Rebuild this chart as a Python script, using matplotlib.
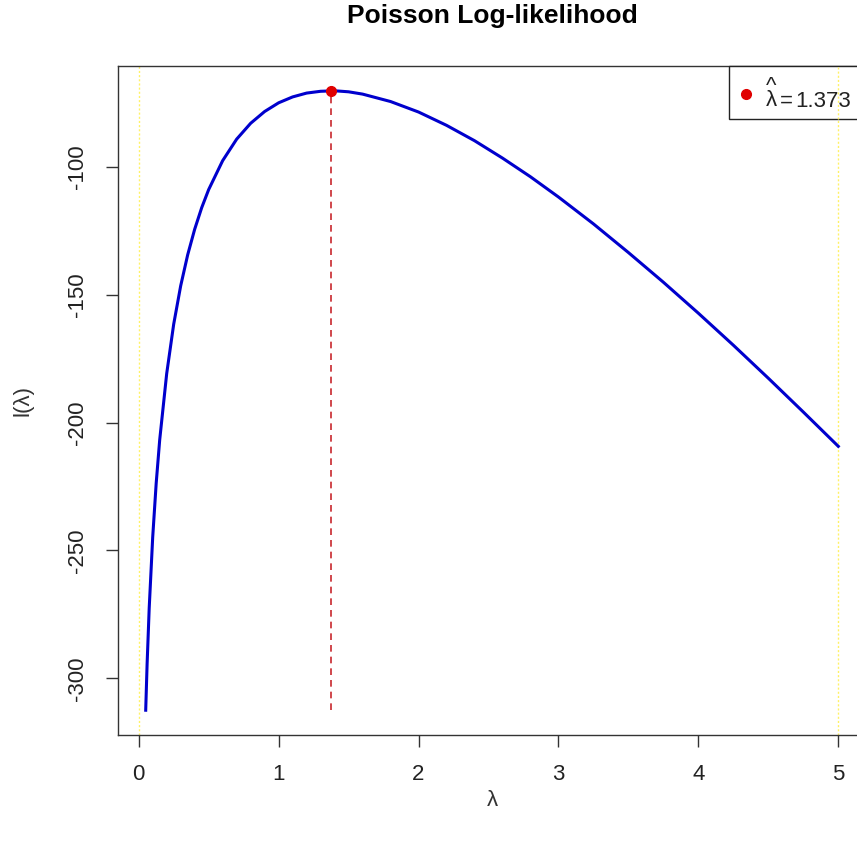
import matplotlib
matplotlib.use("Agg")
import matplotlib.pyplot as plt
from matplotlib.patches import Rectangle

# Data
lam = [0.05, 0.06, 0.075, 0.1, 0.125, 0.15, 0.2, 0.25, 0.3, 0.35, 0.4, 0.45, 0.5,
       0.6, 0.7, 0.8, 0.9, 1.0, 1.1, 1.2, 1.3, 1.4, 1.5, 1.6, 1.8, 2.0, 2.2,
       2.4, 2.6, 2.8, 3.0, 3.25, 3.5, 3.75, 4.0, 4.25, 4.5, 4.75, 5.0]
loglik = [-312.4, -294.4, -272.5, -244.8, -223.7, -206.8, -180.9, -161.6, -146.6,
          -134.5, -124.5, -116.1, -109.0, -97.7, -89.3, -83.1, -78.5, -75.1, -72.8,
          -71.3, -70.6, -70.4, -70.8, -71.7, -74.6, -78.7, -83.9, -89.9, -96.7,
          -104.0, -111.9, -122.4, -133.6, -145.2, -157.3, -169.8, -182.7, -195.9,
          -209.3]
lam_hat = 1.373
loglik_max = -70.4
bounds = [0, 5]
xticks = [0, 1, 2, 3, 4, 5]
yticks = [-300, -250, -200, -150, -100]

plt.rcParams['font.family'] = ['Liberation Sans', 'DejaVu Sans']
W, H = 857, 841
fig = plt.figure(figsize=(W / 100, H / 100), dpi=100)
left, right, top, bottom = 118, 866, 66, 735
ax = fig.add_axes([left / W, 1 - bottom / H, (right - left) / W, (bottom - top) / H])

ax.plot(lam, loglik, color='#0000CD', lw=2.2, zorder=3)
ymin, ymax = min(loglik), max(loglik)
ax.plot([lam_hat, lam_hat], [ymin, loglik_max], color='#C8282D', lw=1.2,
        ls=(0, (4, 3)), zorder=2)
ax.plot([lam_hat], [loglik_max], 'o', color='#E00000', ms=7, zorder=4)

xr = max(lam) - min(lam)
ax.set_xlim(min(lam) - 0.04 * xr, max(lam) + 0.04 * xr)
yr = ymax - ymin
ax.set_ylim(ymin - 0.04 * yr, ymax + 0.04 * yr)

FS = 16
ax.set_xticks(xticks)
ax.set_yticks(yticks)
ax.set_xticklabels([str(v) for v in xticks], fontsize=FS, color='#222222')
ax.set_yticklabels([str(v) for v in yticks], fontsize=FS, rotation=90,
                   va='center', color='#222222')
ax.tick_params(direction='out', length=8.6, width=1, color='#333333')
ax.tick_params(axis='x', pad=12)
ax.tick_params(axis='y', pad=13)
for s in ax.spines.values():
    s.set_color('#333333')
    s.set_linewidth(1)

fig.text(492 / W, 1 - 16 / H, 'Poisson Log-likelihood', ha='center', va='center',
         fontsize=19, fontweight='bold')
fig.text(492 / W, 1 - 801 / H, 'λ', ha='center', va='center', fontsize=FS, color='#333333')
fig.text(23 / W, 1 - 400 / H, 'l(λ)', ha='center', va='center', fontsize=FS,
         rotation=90, color='#333333')

# Legend box
leg_x0, leg_y0, leg_y1 = 729, 66, 119
rect = Rectangle((leg_x0 / W, 1 - leg_y1 / H), (900 - leg_x0) / W, (leg_y1 - leg_y0) / H,
                 transform=fig.transFigure, facecolor='white', edgecolor='#222222',
                 lw=1, zorder=5)
fig.add_artist(rect)
fig.add_artist(plt.Line2D([746 / W], [1 - 94 / H], marker='o', color='#E00000',
                          ms=7, transform=fig.transFigure, zorder=6))
fig.text(771.5 / W, 1 - 111 / H, '^\nλ', ha='center', va='bottom', fontsize=FS,
         linespacing=0.58, multialignment='center', color='#222222', zorder=6)
fig.text(780 / W, 1 - 107 / H, '=', ha='left', va='baseline', fontsize=FS,
         color='#222222', zorder=6)
fig.text(795 / W, 1 - 107 / H, '1.373', ha='left', va='baseline', fontsize=FS,
         color='#222222', zorder=6)

for b in bounds:
    ax.axvline(b, color='#FFF266', lw=1, ls=(0, (1.5, 1.5)), zorder=1)
xb = ax.transData.transform((bounds[1], 0))[0] / W
fig.add_artist(plt.Line2D([xb, xb], [1 - leg_y1 / H, 1 - leg_y0 / H], color='#FFF266',
                          lw=1, ls=(0, (1.5, 1.5)), transform=fig.transFigure, zorder=7))

fig.savefig('out.png', dpi=100, facecolor='white')
